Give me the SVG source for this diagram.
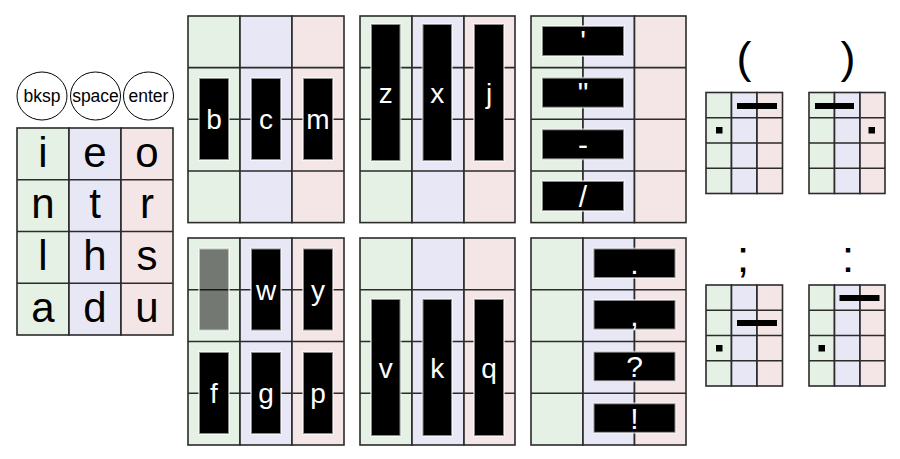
<svg xmlns="http://www.w3.org/2000/svg" width="900" height="459" viewBox="0 0 900 459">
<style>
  .g{fill:#e6f1e6;stroke:#2b2b2b;stroke-width:1.6}
  .b{fill:#e7e7f5;stroke:#2b2b2b;stroke-width:1.6}
  .p{fill:#f4e6e6;stroke:#2b2b2b;stroke-width:1.6}
  .ln{stroke:#2b2b2b;stroke-width:1.6;fill:none}
  .bar{fill:#000;stroke:#ffffff;stroke-opacity:0.55;stroke-width:2}
  .ghost{fill:#000;fill-opacity:0.5;stroke:#ffffff;stroke-opacity:0.55;stroke-width:2}
  .sb{fill:#000}
  .t{font-family:"Liberation Sans",Arial,Helvetica,sans-serif;text-anchor:middle}
  .big{font-size:42px;fill:#000}
  .wl{font-size:28px;fill:#fff}
  .wp{font-size:30px;fill:#fff}
  .key{font-size:17.5px;fill:#000}
  .sym{font-size:45px;fill:#000}
  .circ{fill:#fff;stroke:#000;stroke-width:1}
</style>
<rect width="900" height="459" fill="#fff"/>

<g id="keyboard">
  <g id="keys-top">
    <ellipse class="circ" cx="42" cy="96" rx="25" ry="24"/>
    <ellipse class="circ" cx="95.5" cy="96" rx="25" ry="24"/>
    <ellipse class="circ" cx="148.5" cy="96" rx="25" ry="24"/>
    <text class="t key" x="42" y="101.5">bksp</text>
    <text class="t key" x="95.5" y="101.5">space</text>
    <text class="t key" x="148.5" y="101.5">enter</text>
  </g>
  <g id="keys-grid">
    <rect class="g" x="17" y="128" width="52" height="207"/>
    <rect class="b" x="69" y="128" width="52" height="207"/>
    <rect class="p" x="121" y="128" width="52" height="207"/>
    <path class="ln" d="M17 179.75H173M17 231.5H173M17 283.25H173"/>
    <text class="t big" x="43" y="166.5">i</text>
    <text class="t big" x="95" y="166.5">e</text>
    <text class="t big" x="147" y="166.5">o</text>
    <text class="t big" x="43" y="218.2">n</text>
    <text class="t big" x="95" y="218.2">t</text>
    <text class="t big" x="147" y="218.2">r</text>
    <text class="t big" x="43" y="270">l</text>
    <text class="t big" x="95" y="270">h</text>
    <text class="t big" x="147" y="270">s</text>
    <text class="t big" x="43" y="321.7">a</text>
    <text class="t big" x="95" y="321.7">d</text>
    <text class="t big" x="147" y="321.7">u</text>
  </g>
</g>

<g id="grid-bcm">
  <rect class="g" x="188" y="16" width="52" height="206.6"/>
  <rect class="b" x="240" y="16" width="52" height="206.6"/>
  <rect class="p" x="292" y="16" width="52" height="206.6"/>
  <path class="ln" d="M188 67.65H344M188 119.3H344M188 170.95H344"/>
  <rect class="bar" x="199" y="78" width="30" height="82"/>
  <rect class="bar" x="251" y="78" width="30" height="82"/>
  <rect class="bar" x="303" y="78" width="30" height="82"/>
  <text class="t wl" x="214" y="129">b</text>
  <text class="t wl" x="266" y="129">c</text>
  <text class="t wl" x="318" y="129">m</text>
</g>

<g id="grid-zxj">
  <rect class="g" x="360" y="16" width="52" height="206.6"/>
  <rect class="b" x="412" y="16" width="52" height="206.6"/>
  <rect class="p" x="464" y="16" width="51" height="206.6"/>
  <path class="ln" d="M360 67.65H515M360 119.3H515M360 170.95H515"/>
  <rect class="bar" x="371" y="24" width="29.5" height="137"/>
  <rect class="bar" x="422.5" y="24" width="29.5" height="137"/>
  <rect class="bar" x="474" y="24" width="30" height="137"/>
  <text class="t wl" x="385.7" y="103">z</text>
  <text class="t wl" x="437.2" y="103">x</text>
  <text class="t wl" x="489" y="103">j</text>
</g>

<g id="grid-quotes">
  <rect class="g" x="531" y="16" width="52" height="206.6"/>
  <rect class="b" x="583" y="16" width="51.5" height="206.6"/>
  <rect class="p" x="634.5" y="16" width="51.5" height="206.6"/>
  <path class="ln" d="M531 67.65H686M531 119.3H686M531 170.95H686"/>
  <rect class="bar" x="542" y="26" width="82" height="30"/>
  <rect class="bar" x="542" y="77.7" width="82" height="30"/>
  <rect class="bar" x="542" y="129.3" width="82" height="30"/>
  <rect class="bar" x="542" y="181" width="82" height="30"/>
  <text class="t wp" x="583" y="51">'</text>
  <text class="t wp" x="583" y="103">"</text>
  <text class="t wp" x="583" y="154.5">-</text>
  <text class="t wp" x="583" y="206.5">/</text>
</g>

<g id="grid-wyfgp">
  <rect class="g" x="188" y="238" width="52" height="207"/>
  <rect class="b" x="240" y="238" width="52" height="207"/>
  <rect class="p" x="292" y="238" width="52" height="207"/>
  <path class="ln" d="M188 289.75H344M188 341.5H344M188 393.25H344"/>
  <rect class="ghost" x="199" y="248.5" width="30" height="82"/>
  <rect class="bar" x="251" y="248.5" width="30" height="82"/>
  <rect class="bar" x="303" y="248.5" width="30" height="82"/>
  <rect class="bar" x="199" y="352" width="30" height="82"/>
  <rect class="bar" x="251" y="352" width="30" height="82"/>
  <rect class="bar" x="303" y="352" width="30" height="82"/>
  <text class="t wl" x="266" y="299.5">w</text>
  <text class="t wl" x="318" y="299.5">y</text>
  <text class="t wl" x="214" y="403">f</text>
  <text class="t wl" x="266" y="403">g</text>
  <text class="t wl" x="318" y="403">p</text>
</g>

<g id="grid-vkq">
  <rect class="g" x="360" y="238" width="52" height="207"/>
  <rect class="b" x="412" y="238" width="52" height="207"/>
  <rect class="p" x="464" y="238" width="51" height="207"/>
  <path class="ln" d="M360 289.75H515M360 341.5H515M360 393.25H515"/>
  <rect class="bar" x="371" y="299" width="29.5" height="137"/>
  <rect class="bar" x="422.5" y="299" width="29.5" height="137"/>
  <rect class="bar" x="474" y="299" width="30" height="137"/>
  <text class="t wl" x="385.7" y="378">v</text>
  <text class="t wl" x="437.2" y="378">k</text>
  <text class="t wl" x="489" y="378">q</text>
</g>

<g id="grid-punct">
  <rect class="g" x="531" y="238" width="52" height="207"/>
  <rect class="b" x="583" y="238" width="51.5" height="207"/>
  <rect class="p" x="634.5" y="238" width="51.5" height="207"/>
  <path class="ln" d="M531 289.75H686M531 341.5H686M531 393.25H686"/>
  <rect class="bar" x="593.5" y="248.5" width="82" height="29.5"/>
  <rect class="bar" x="593.5" y="300" width="82" height="29.5"/>
  <rect class="bar" x="593.5" y="351.7" width="82" height="29.5"/>
  <rect class="bar" x="593.5" y="403.3" width="82" height="29.5"/>
  <text class="t wp" x="634.5" y="274">.</text>
  <text class="t wp" x="634.5" y="325.5">,</text>
  <text class="t wp" x="634.5" y="377">?</text>
  <text class="t wp" x="634.5" y="429">!</text>
</g>

<g id="chord-lparen">
  <text class="t sym" x="744" y="73">(</text>
  <rect class="g" x="706" y="92.5" width="25.5" height="101"/>
  <rect class="b" x="731.5" y="92.5" width="25.5" height="101"/>
  <rect class="p" x="757" y="92.5" width="25.5" height="101"/>
  <path class="ln" d="M706 117.75H782.5M706 143H782.5M706 168.25H782.5"/>
  <rect class="sb" x="737" y="103" width="40" height="6"/>
  <rect class="sb" x="716" y="127" width="6.5" height="6.5"/>
</g>

<g id="chord-rparen">
  <text class="t sym" x="848" y="73">)</text>
  <rect class="g" x="809" y="92.5" width="25.5" height="101"/>
  <rect class="b" x="834.5" y="92.5" width="25.5" height="101"/>
  <rect class="p" x="860" y="92.5" width="25" height="101"/>
  <path class="ln" d="M809 117.75H885M809 143H885M809 168.25H885"/>
  <rect class="sb" x="815" y="103" width="39" height="6"/>
  <rect class="sb" x="868.5" y="127" width="6.5" height="6.5"/>
</g>

<g id="chord-semicolon">
  <text class="t sym" x="743" y="272">;</text>
  <rect class="g" x="706" y="285" width="25.5" height="101"/>
  <rect class="b" x="731.5" y="285" width="25.5" height="101"/>
  <rect class="p" x="757" y="285" width="25.5" height="101"/>
  <path class="ln" d="M706 310.25H782.5M706 335.5H782.5M706 360.75H782.5"/>
  <rect class="sb" x="737" y="320" width="40" height="6"/>
  <rect class="sb" x="716" y="345" width="6.5" height="6.5"/>
</g>

<g id="chord-colon">
  <text class="t sym" x="848" y="272">:</text>
  <rect class="g" x="809" y="285" width="25.5" height="101"/>
  <rect class="b" x="834.5" y="285" width="25.5" height="101"/>
  <rect class="p" x="860" y="285" width="25" height="101"/>
  <path class="ln" d="M809 310.25H885M809 335.5H885M809 360.75H885"/>
  <rect class="sb" x="839.5" y="295" width="40" height="6"/>
  <rect class="sb" x="818.5" y="345" width="6.5" height="6.5"/>
</g>

<g id="connectors"/>
</svg>
